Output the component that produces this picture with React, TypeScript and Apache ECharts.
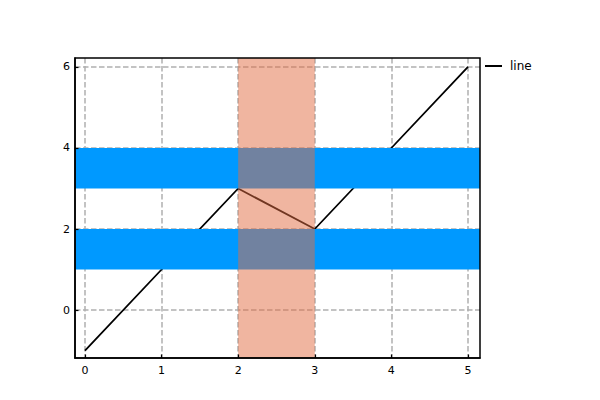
import React, { useEffect, useRef } from "react";
import * as echarts from "echarts";

const lineX = [0, 1, 2, 3, 4, 5];
const lineY = [-1, 1, 3, 2, 4, 6];
const hBands = [[1, 2], [3, 4]];
const vBands = [[2, 3]];
const xTicks = [0, 1, 2, 3, 4, 5];
const yTicks = [0, 2, 4, 6];
const xRange = [-0.13, 5.157];
const yRange = [-1.185, 6.222];

export default function App() {
  const ref = useRef<HTMLDivElement>(null);
  useEffect(() => {
    const chart = echarts.init(ref.current!, null, { renderer: "svg" });
    const font = "DejaVu Sans";
    const baseX = { type: "value", min: xRange[0], max: xRange[1] };
    const baseY = { type: "value", min: yRange[0], max: yRange[1] };
    chart.setOption({
      animation: false,
      textStyle: { fontFamily: font },
      grid: {
        left: 75, right: 120, top: 58, bottom: 42,
        show: true, borderColor: "#000", borderWidth: 1.5, z: 10,
        backgroundColor: "transparent", containLabel: false,
      },
      legend: {
        data: ["line"], left: 485, top: 60, orient: "vertical", padding: 0,
        icon: "rect", itemWidth: 17, itemHeight: 2, itemGap: 5,
        textStyle: { fontFamily: font, fontSize: 12, color: "#000", padding: [0, 0, 0, 3] },
      },
      xAxis: [
        {
          ...baseX, position: "bottom", z: 10,
          axisLine: { show: true, onZero: false, lineStyle: { color: "#000", width: 1.5 } },
          axisTick: { show: true, inside: true, length: 3.5, customValues: xTicks, lineStyle: { color: "#000", width: 1.2 } },
          axisLabel: { show: true, customValues: xTicks, margin: 7, fontSize: 11, color: "#000", fontFamily: font },
          splitLine: { show: false },
        },
        {
          ...baseX, position: "bottom", z: 0,
          axisLine: { show: false },
          axisTick: { show: false, customValues: xTicks },
          axisLabel: { show: false, customValues: xTicks },
          splitLine: { show: true, lineStyle: { color: "#b0b0b0", width: 1.5, type: [5.5, 2.5] } },
        },
      ],
      yAxis: [
        {
          ...baseY, position: "left", z: 10,
          axisLine: { show: true, onZero: false, lineStyle: { color: "#000", width: 1.5 } },
          axisTick: { show: true, inside: true, length: 3.5, customValues: yTicks, lineStyle: { color: "#000", width: 1.2 } },
          axisLabel: { show: true, customValues: yTicks, margin: 5, fontSize: 11, color: "#000", fontFamily: font },
          splitLine: { show: false },
        },
        {
          ...baseY, position: "left", z: 0,
          axisLine: { show: false },
          axisTick: { show: false, customValues: yTicks },
          axisLabel: { show: false, customValues: yTicks },
          splitLine: { show: true, lineStyle: { color: "#b0b0b0", width: 1.5, type: [5.5, 2.5] } },
        },
      ],
      series: [
        {
          name: "line", type: "line", z: 2,
          data: lineX.map((x, i) => [x, lineY[i]]),
          symbol: "none",
          lineStyle: { color: "#000", width: 1.8 },
          itemStyle: { color: "#000" },
        },
        {
          name: "hbands", type: "custom", z: 3,
          data: hBands,
          encode: { y: [0, 1] },
          renderItem: (params: any, api: any) => {
            const cs = params.coordSys;
            const top = api.coord([0, api.value(1)])[1];
            const bot = api.coord([0, api.value(0)])[1];
            return {
              type: "rect",
              shape: { x: cs.x, y: top, width: cs.width, height: bot - top },
              style: { fill: "#0099ff" },
            };
          },
        },
        {
          name: "vbands", type: "custom", z: 4,
          data: vBands,
          encode: { x: [0, 1] },
          renderItem: (params: any, api: any) => {
            const cs = params.coordSys;
            const l = api.coord([api.value(0), 0])[0];
            const r = api.coord([api.value(1), 0])[0];
            return {
              type: "rect",
              shape: { x: l, y: cs.y, width: r - l, height: cs.height },
              style: { fill: "rgba(225,107,65,0.5)" },
            };
          },
        },
      ],
    });
    return () => chart.dispose();
  }, []);
  return <div ref={ref} style={{ width: 600, height: 400, position: "absolute", left: 0, top: 0 }} />;
}
